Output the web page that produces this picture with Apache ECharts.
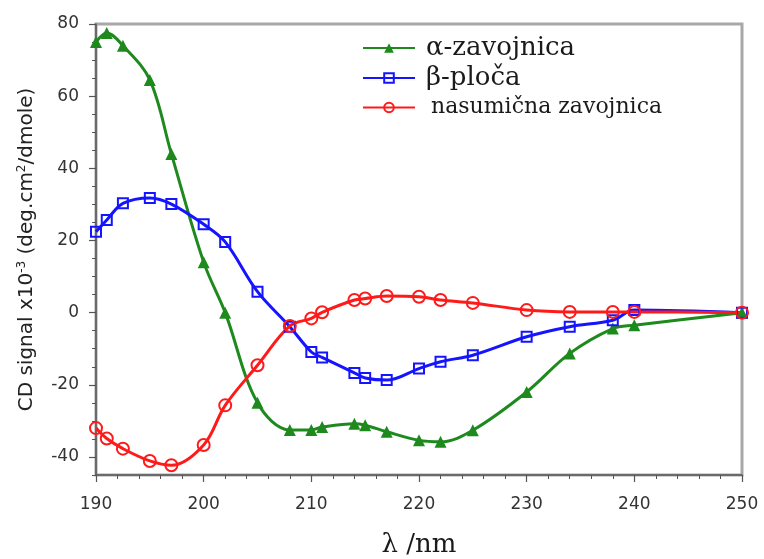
<!DOCTYPE html>
<html>
<head>
<meta charset="utf-8">
<script src="https://cdn.jsdelivr.net/npm/echarts@6/dist/echarts.min.js"></script>
<style>html,body{margin:0;padding:0;background:#fff}#c{width:764px;height:559px}</style>
</head>
<body>
<div id="c"></div>
<script>
var wavelength = [190,191,192.5,195,197,200,202,205,208,210,211,214,215,217,220,222,225,230,234,238,240,250];
var alphaHelix = [75,77.5,74,64.5,44,14,0,-25,-32.5,-32.5,-31.7,-30.8,-31.2,-33,-35.4,-35.8,-32.6,-22,-11.3,-4.4,-3.5,0];
var betaSheet = [22.4,25.7,30.3,31.8,30.1,24.5,19.6,5.8,-3.9,-10.9,-12.4,-16.7,-18.1,-18.7,-15.5,-13.6,-11.8,-6.7,-3.9,-2.1,0.7,0];
var randomCoil = [-32,-34.9,-37.7,-41.1,-42.3,-36.7,-25.7,-14.6,-3.7,-1.6,0.1,3.5,3.9,4.6,4.4,3.5,2.7,0.7,0.2,0.2,0.2,0];
var seriesNames = ['α-zavojnica','β-ploča','nasumična zavojnica'];
var yMajorTicks = [-40,-20,0,20,40,60,80];
var yMinorTicks = [-45,-35,-30,-25,-15,-10,-5,5,10,15,25,30,35,45,50,55,65,70,75];

function pairs(ys){ return wavelength.map(function(x,i){ return [x, ys[i]]; }); }

var chart = echarts.init(document.getElementById('c'));
var tickColor = '#555';
var serif = 'DejaVu Serif';
chart.setOption({
  animation: false,
  grid: { left: 96, right: 22, top: 24, bottom: 84, outerBoundsMode: 'none', containLabel: false,
          show: true, borderColor: '#a8a8a8', borderWidth: 3, backgroundColor: '#fff' },
  legend: {
    orient: 'vertical', left: 357, top: 28, itemGap: 0, itemWidth: 52, itemHeight: 12,
    data: seriesNames,
    textStyle: { fontFamily: serif, fontSize: 26, color: '#1a1a1a',
      rich: {
        b: { fontFamily: serif, fontSize: 26, color: '#1a1a1a', padding: [0,0,0,6], height: 30, lineHeight: 30 },
        s: { fontFamily: serif, fontSize: 22, color: '#1a1a1a', padding: [0,0,0,11], height: 29, lineHeight: 29 } } },
    formatter: function(n){ return n === seriesNames[2] ? '{s|' + n + '}' : '{b|' + n + '}'; }
  },
  xAxis: {
    type: 'value', min: 190, max: 250, interval: 10,
    name: 'λ /nm', nameLocation: 'middle', nameGap: 57,
    nameTextStyle: { fontFamily: serif, fontSize: 26, color: '#1a1a1a' },
    axisLine: { onZero: false, lineStyle: { color: tickColor, width: 1.5 } },
    axisTick: { show: true, inside: false, length: 7, lineStyle: { color: tickColor, width: 1.2 } },
    minorTick: { show: true, splitNumber: 5, length: 4, lineStyle: { color: tickColor, width: 1 } },
    axisLabel: { fontFamily: 'DejaVu Sans', fontSize: 17, color: '#333', margin: 21 },
    splitLine: { show: false }
  },
  yAxis: [{
    type: 'value', min: -45, max: 80,
    name: '{a|CD signal x10}{s|-3}{a| (deg.cm}{s|2}{a|/dmole)}',
    nameLocation: 'middle', nameRotate: 90, nameGap: 58,
    nameTextStyle: { rich: {
      a: { fontFamily: 'DejaVu Sans', fontSize: 20, color: '#222' },
      s: { fontFamily: 'DejaVu Sans', fontSize: 12, color: '#222', padding: [0,0,10,0] } } },
    axisLine: { show: true, onZero: false, lineStyle: { color: tickColor, width: 1.5 } },
    axisTick: { show: true, inside: false, length: 7, customValues: yMajorTicks, lineStyle: { color: tickColor, width: 1.2 } },
    axisLabel: { fontFamily: 'DejaVu Sans', fontSize: 17, color: '#333', margin: 17, customValues: yMajorTicks },
    splitLine: { show: false }
  }, {
    type: 'value', min: -45, max: 80, position: 'left',
    axisLine: { show: false, onZero: false },
    axisTick: { show: true, inside: false, length: 4, customValues: yMinorTicks, lineStyle: { color: tickColor, width: 1 } },
    axisLabel: { show: false },
    splitLine: { show: false }
  }],
  series: [{
    name: seriesNames[0], type: 'line', data: pairs(alphaHelix), smooth: 0.35, clip: false,
    symbol: 'triangle', symbolSize: 12,
    lineStyle: { color: '#1e8a1e', width: 3 },
    itemStyle: { color: '#1e8a1e' }
  }, {
    name: seriesNames[1], type: 'line', data: pairs(betaSheet), smooth: 0.35, clip: false,
    symbol: 'rect', symbolSize: 10,
    lineStyle: { color: '#1414ff', width: 3 },
    itemStyle: { color: 'rgba(255,255,255,0)', borderColor: '#1414ff', borderWidth: 2 }
  }, {
    name: seriesNames[2], type: 'line', data: pairs(randomCoil), smooth: 0.35, clip: false,
    symbol: 'circle', symbolSize: 12,
    lineStyle: { color: '#ff1a1a', width: 3 },
    itemStyle: { color: 'rgba(255,255,255,0)', borderColor: '#ff1a1a', borderWidth: 2 }
  }]
});
</script>
</body>
</html>
